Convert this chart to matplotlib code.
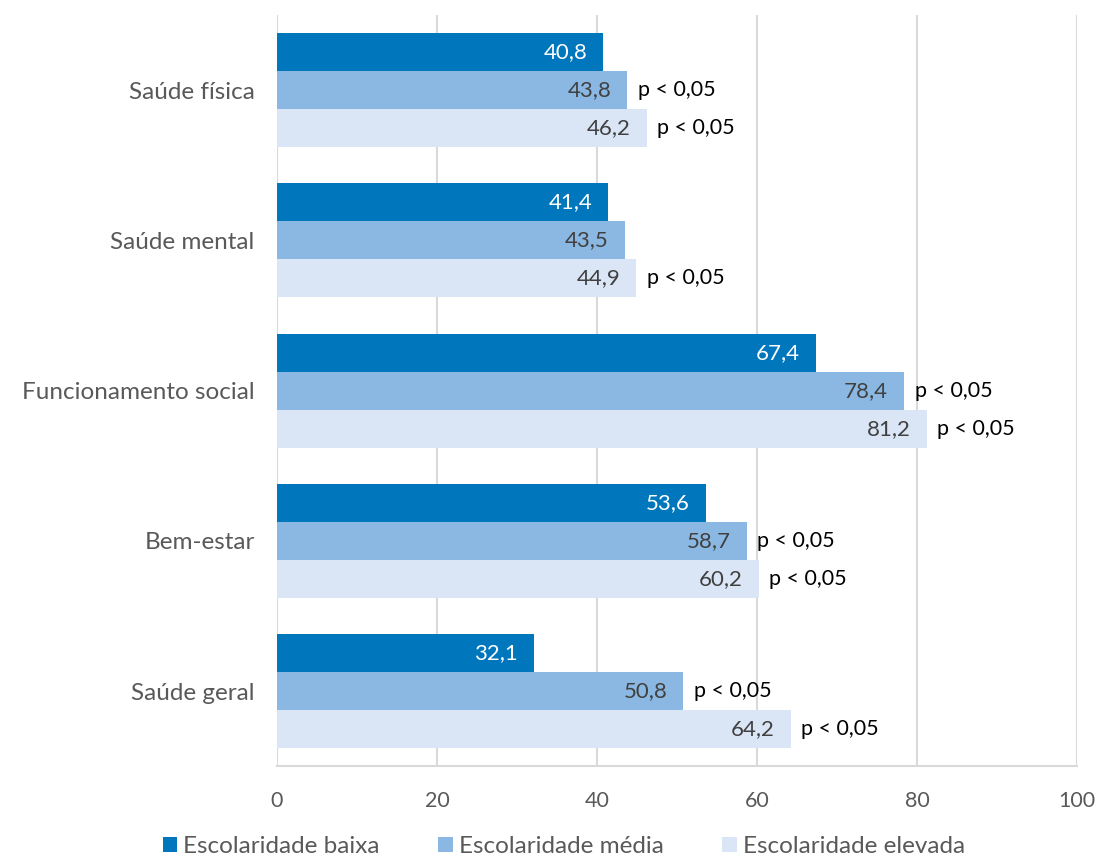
import matplotlib
matplotlib.use('Agg')
import matplotlib.pyplot as plt
import numpy as np

plt.rcParams['font.family'] = ['Lato', 'DejaVu Sans']

categories = ['Saúde física', 'Saúde mental', 'Funcionamento social', 'Bem-estar', 'Saúde geral']
series_names = ['Escolaridade baixa', 'Escolaridade média', 'Escolaridade elevada']
baixa = [40.8, 41.4, 67.4, 53.6, 32.1]
media = [43.8, 43.5, 78.4, 58.7, 50.8]
elevada = [46.2, 44.9, 81.2, 60.2, 64.2]
# which bars carry a "p < 0,05" note
sig_media = [True, False, True, True, True]
sig_elevada = [True, True, True, True, True]

colors = ['#0077BD', '#8BB8E3', '#DAE6F6']
text_colors = ['white', '#404040', '#404040']

fig = plt.figure(figsize=(10.99, 8.6), dpi=100)
ax = fig.add_axes([0.252, 0.109, 0.728, 0.8735])

y = np.arange(len(categories))
h = 0.253
all_vals = [baixa, media, elevada]
sigs = [None, sig_media, sig_elevada]

for i, vals in enumerate(all_vals):
    pos = y + (i - 1) * h
    ax.barh(pos, vals, height=h, color=colors[i], label=series_names[i], zorder=2)
    for j, v in enumerate(vals):
        ax.text(v - 2.0, pos[j], f'{v:.1f}'.replace('.', ','), ha='right', va='center',
                fontsize=16, color=text_colors[i], zorder=3)
        if sigs[i] is not None and sigs[i][j]:
            ax.text(v + 1.3, pos[j], 'p < 0,05', ha='left', va='center',
                    fontsize=15.5, color='black', zorder=3)

ax.set_ylim(len(categories) - 0.5, -0.5)
ax.set_xlim(0, 100)
ax.set_xticks([0, 20, 40, 60, 80, 100])
ax.set_yticks(y)
ax.set_yticklabels(categories)
ax.tick_params(axis='y', length=0, pad=16, labelsize=17.5, labelcolor='#595959')
ax.tick_params(axis='x', length=0, pad=18, labelsize=15.5, labelcolor='#595959')
ax.grid(axis='x', color='#D9D9D9', linewidth=1.5, zorder=0)
for s in ['top', 'right', 'left']:
    ax.spines[s].set_visible(False)
ax.spines['bottom'].set_color('#D9D9D9')
ax.spines['bottom'].set_linewidth(1.5)

leg = fig.legend(loc='lower center', bbox_to_anchor=(0.513, -0.022), ncol=3, frameon=False,
                 handlelength=0.6, handleheight=0.6, handletextpad=0.25,
                 columnspacing=2.4, prop={'size': 17.5})
for t in leg.get_texts():
    t.set_color('#595959')

fig.savefig('out.png', dpi=100)
